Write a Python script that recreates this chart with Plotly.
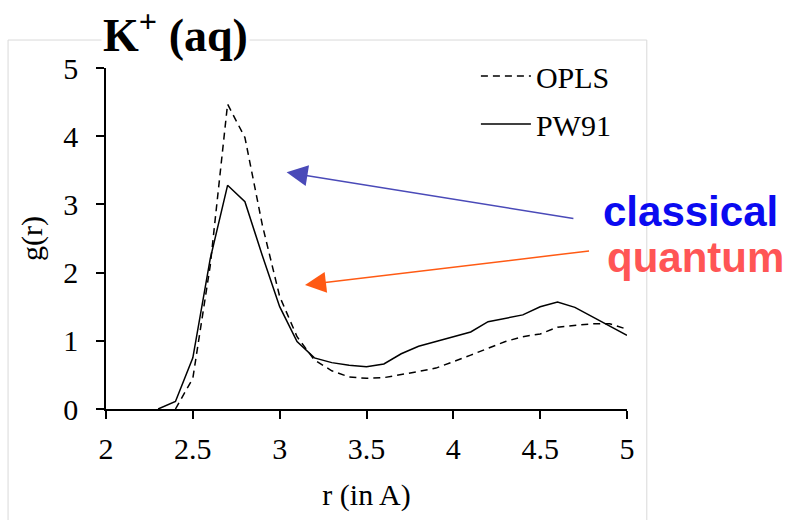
import plotly.graph_objects as go

r = [2.3, 2.4, 2.5, 2.6, 2.7, 2.8, 2.9, 3.0, 3.1, 3.2, 3.3, 3.4, 3.5, 3.6, 3.7, 3.8,
     3.9, 4.0, 4.1, 4.2, 4.3, 4.4, 4.5, 4.6, 4.7, 4.8, 4.9, 5.0]
pw91 = [0.0, 0.11, 0.75, 2.2, 3.28, 3.04, 2.25, 1.5, 0.99, 0.75, 0.68, 0.64, 0.62, 0.66,
        0.81, 0.92, 0.99, 1.06, 1.13, 1.28, 1.33, 1.38, 1.5, 1.57, 1.49, 1.35, 1.21, 1.08]
r_opls = r[1:]
opls = [0.0, 0.45, 2.1, 4.47, 3.98, 2.7, 1.65, 1.06, 0.72, 0.56, 0.47, 0.45, 0.46,
        0.5, 0.55, 0.6, 0.69, 0.79, 0.89, 0.99, 1.06, 1.1, 1.2, 1.23, 1.25, 1.25, 1.17]

x_ticks = [2, 2.5, 3, 3.5, 4, 4.5, 5]
y_ticks = [0, 1, 2, 3, 4, 5]

serif = "Liberation Serif"
sans = "Liberation Sans"
fs = 30

fig = go.Figure()
fig.add_trace(go.Scatter(x=r_opls, y=opls, mode="lines", name="OPLS", legendgroup="a",
                         line=dict(color="black", width=1.5, dash="7px,5px")))
fig.add_trace(go.Scatter(x=r, y=pw91, mode="lines", name="PW91", legendgroup="b",
                         line=dict(color="black", width=1.5)))

fig.update_layout(
    width=788, height=520,
    margin=dict(l=106, r=161, t=68, b=111),
    paper_bgcolor="white", plot_bgcolor="white",
    font=dict(family=serif, size=fs, color="black"),
    showlegend=True,
    legend=dict(x=0.71, y=1.053, xanchor="left", yanchor="top",
                bgcolor="rgba(0,0,0,0)", font=dict(size=fs, family=serif),
                tracegroupgap=6, itemwidth=50),
    xaxis=dict(range=[2, 5], tickvals=x_ticks, ticktext=[str(v) for v in x_ticks],
               showgrid=False, zeroline=False, showline=True, linecolor="black",
               linewidth=1.5, ticks="outside", ticklen=8, tickwidth=1.5, tickcolor="black",
               tickfont=dict(size=fs, family=serif), ticklabelstandoff=4,
               title=dict(text="r (in A)", font=dict(size=fs, family=serif), standoff=20)),
    yaxis=dict(range=[0, 5], tickvals=y_ticks, showgrid=False, zeroline=False,
               showline=True, linecolor="black", linewidth=1.5, ticks="outside",
               ticklen=8, tickwidth=1.5, tickcolor="black", ticklabelstandoff=12,
               tickfont=dict(size=fs, family=serif),
               title=dict(text="g(r)", font=dict(size=fs, family=serif), standoff=12)),
)

# outer light frame
fig.add_shape(type="rect", xref="paper", yref="paper", x0=-0.188, x1=1.038,
              y0=-0.45, y1=1.082, line=dict(color="#d9d9d9", width=1), layer="below")

# title
fig.add_annotation(text="<b>K<sup>+</sup> (aq)</b>", xref="paper", yref="paper",
                   x=0.133, y=1.105, xanchor="center", yanchor="middle",
                   showarrow=False, bgcolor="white",
                   font=dict(family=serif, size=46, color="black"))

# arrows
fig.add_annotation(x=3.04, y=3.47, ax=4.70, ay=2.79, xref="x", yref="y", axref="x", ayref="y",
                   showarrow=True, arrowhead=2, arrowsize=2.8, arrowwidth=1.5,
                   arrowcolor="#4a4ab8", text="")
fig.add_annotation(x=3.146, y=1.82, ax=4.79, ay=2.32, xref="x", yref="y", axref="x", ayref="y",
                   showarrow=True, arrowhead=2, arrowsize=2.8, arrowwidth=1.5,
                   arrowcolor="#ff5a14", text="")

fig.add_annotation(text="<b>classical</b>", xref="paper", yref="paper", x=1.121, y=0.578,
                   xanchor="center", yanchor="middle",
                   showarrow=False, font=dict(family=sans, size=42, color="#0a0af0"))
fig.add_annotation(text="<b>quantum</b>", xref="paper", yref="paper", x=1.131, y=0.443,
                   xanchor="center", yanchor="middle",
                   showarrow=False, font=dict(family=sans, size=42, color="#ff5555"))

fig.write_html("out.html")
